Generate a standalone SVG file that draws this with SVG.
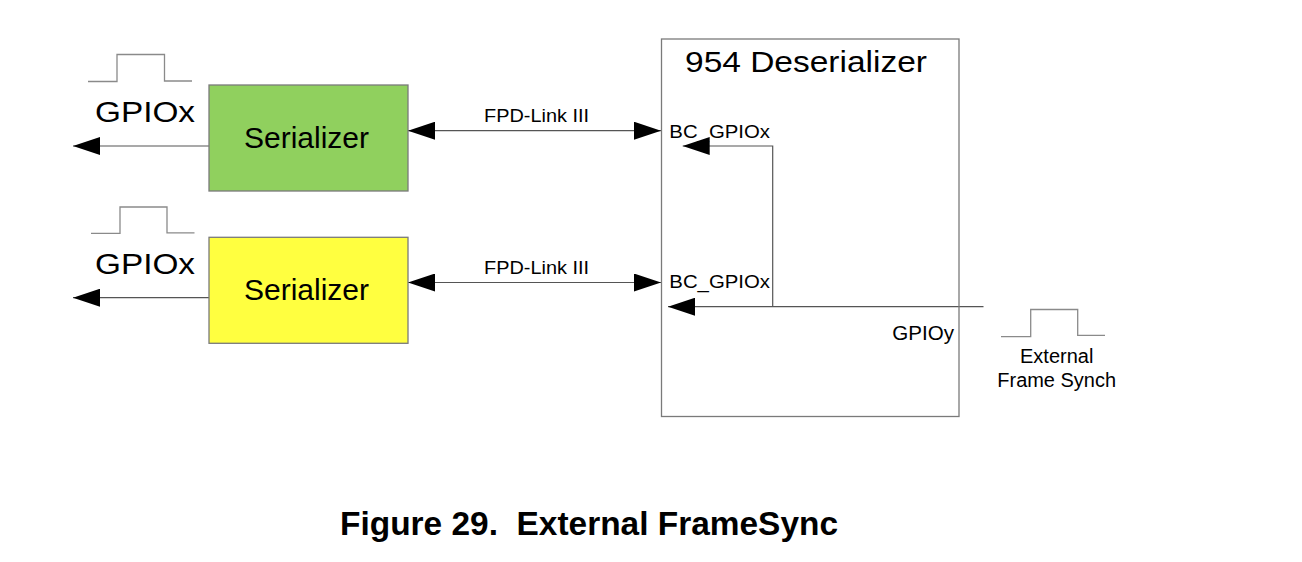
<svg xmlns="http://www.w3.org/2000/svg" width="1302" height="562" viewBox="0 0 1302 562">
<style>
.box{stroke:#7a7a7a;stroke-width:1.3}
.wire{fill:none;stroke:#555;stroke-width:1.2}
.pulse{fill:none;stroke:#8a8a8a;stroke-width:1.3}
text{font-family:"Liberation Sans",Arial,Helvetica,sans-serif;fill:#000}
.big{font-size:30px}
.mid{font-size:19px}
.sm{font-size:18px}
.cap{font-size:33px;font-weight:bold;white-space:pre}
</style>
<defs>
<marker id="ah" markerUnits="userSpaceOnUse" markerWidth="28" markerHeight="18" viewBox="0 0 27 18" refX="27" refY="9" orient="auto-start-reverse">
<path d="M0,0 L27,9 L0,18 z" fill="#000"/>
</marker>
</defs>
<rect width="1302" height="562" fill="#fff"/>

<g id="connectors">
<path class="wire" d="M209,146 H73" marker-end="url(#ah)"/>
<path class="wire" d="M209,297.7 H73" marker-end="url(#ah)"/>
<path class="wire" d="M408,130.7 H661" marker-start="url(#ah)" marker-end="url(#ah)"/>
<path class="wire" d="M408,282.5 H661" marker-start="url(#ah)" marker-end="url(#ah)"/>
<path class="wire" d="M983.5,306.7 H668" marker-end="url(#ah)"/>
<path class="wire" d="M772.7,306.7 V146 H682.7" marker-end="url(#ah)"/>
<text class="sm" x="484" y="121.7" textLength="105" lengthAdjust="spacingAndGlyphs">FPD-Link III</text>
<text class="sm" x="484" y="273.5" textLength="105" lengthAdjust="spacingAndGlyphs">FPD-Link III</text>
</g>

<g id="serializer1">
<rect class="box" x="209" y="85" width="199" height="106" fill="#90d05e"/>
<text class="big" x="244" y="148.3" textLength="125" lengthAdjust="spacingAndGlyphs">Serializer</text>
</g>

<g id="serializer2">
<rect class="box" x="209" y="237.3" width="199" height="106" fill="#ffff40"/>
<text class="big" x="244" y="300" textLength="125" lengthAdjust="spacingAndGlyphs">Serializer</text>
</g>

<g id="gpiox1">
<path class="pulse" d="M88,81.5 H117 V54.5 H164.5 V81 H192"/>
<text class="big" x="95" y="122.3" textLength="100" lengthAdjust="spacingAndGlyphs">GPIOx</text>
</g>

<g id="gpiox2">
<path class="pulse" d="M91,233.3 H120 V207 H167 V232.8 H194.5"/>
<text class="big" x="95" y="274.3" textLength="100" lengthAdjust="spacingAndGlyphs">GPIOx</text>
</g>

<g id="deserializer">
<rect class="box" x="661.5" y="39" width="297.5" height="377.5" fill="none"/>
<text x="685" y="72.3" font-size="29" textLength="242" lengthAdjust="spacingAndGlyphs">954 Deserializer</text>
<text class="mid" x="669.3" y="137.7" textLength="100.7" lengthAdjust="spacingAndGlyphs">BC_GPIOx</text>
<text class="mid" x="669.3" y="288.3" textLength="100.7" lengthAdjust="spacingAndGlyphs">BC_GPIOx</text>
<text x="892.3" y="340" font-size="20" textLength="61.7" lengthAdjust="spacingAndGlyphs">GPIOy</text>
</g>

<g id="external-sync">
<path class="pulse" d="M1001,336.7 H1030.7 V309.5 H1077.7 V335.3 H1105"/>
<text x="1056.7" y="363.3" font-size="20" text-anchor="middle">External</text>
<text x="997.3" y="386.7" font-size="20" textLength="118.7" lengthAdjust="spacingAndGlyphs">Frame Synch</text>
</g>

<text class="cap" x="340" y="535" textLength="498" lengthAdjust="spacingAndGlyphs" xml:space="preserve">Figure 29.  External FrameSync</text>
</svg>
